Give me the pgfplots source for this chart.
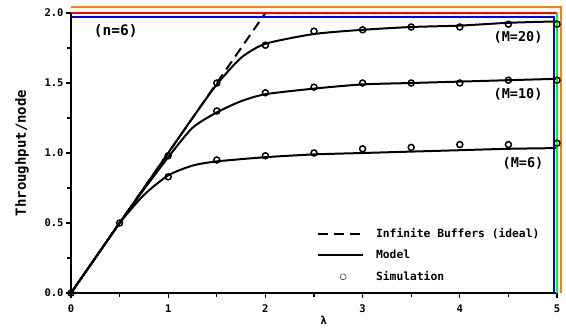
\documentclass[border=0pt]{standalone}
\usepackage{pgfplots}
\pgfplotsset{compat=1.18}
\usepackage{fontspec}
\setmainfont{DejaVu Sans Mono}
\pgfplotsset{
  linelegend/.style={legend image code/.code={\draw[##1] (0pt,0pt) -- (45pt,0pt); \path[draw=none,fill=none] (0pt,0pt) -- (56pt,0pt);}},
  simlegend/.style={legend image code/.code={\draw[##1] (25pt,0pt) circle (3pt); \path[draw=none,fill=none] (0pt,0pt) -- (56pt,0pt);}},
}
\begin{document}
\begin{tikzpicture}
\begin{axis}[name=ax, scale only axis, width=486pt, height=280pt,
  xmin=0, xmax=5, ymin=0, ymax=2, clip=false,
  axis lines*=left,
  xtick={0,1,2,3,4,5}, minor xtick={0.5,1.5,2.5,3.5,4.5},
  ytick={0,0.5,1,1.5,2}, minor ytick={0.25,0.75,1.25,1.75},
  tick align=outside,
  major tick length=5pt, minor tick length=4pt,
  axis line style={black, line width=2pt, -},
  every tick/.style={line width=1.3pt, black},
  /pgf/number format/assume math mode=true,
  yticklabel style={/pgf/number format/fixed, /pgf/number format/fixed zerofill, /pgf/number format/precision=1, xshift=1pt},
  xticklabel style={yshift=-3pt},
  tick label style={font=\fontsize{10.5}{11}\selectfont\bfseries},
  xlabel={λ}, ylabel={Throughput/node},
  xlabel style={at={(axis description cs:0.52,-0.096)}, anchor=center, font=\fontsize{11}{12}\selectfont\bfseries},
  ylabel style={at={(axis description cs:-0.101,0.5)}, anchor=center, font=\fontsize{14}{15}\selectfont\bfseries},
  legend style={draw=none, fill=none, at={(axis cs:2.53,0.475)}, anchor=north west,
    font=\fontsize{11.3}{12}\selectfont\bfseries, row sep=7pt, inner sep=0pt},
  legend cell align=left,
  linelegend,
]
\addplot[black, line width=2pt, dash pattern=on 10pt off 6pt] coordinates {(0,0) (2,2) (5,2)};
\addlegendentry{Infinite Buffers (ideal)}
\addplot[black, line width=2pt, smooth, tension=0.4] coordinates {
(0,0) (0.5,0.5) (1,1.0) (1.25,1.25) (1.5,1.49) (1.75,1.68) (2,1.78) (2.5,1.85) (3,1.88) (3.5,1.90) (4,1.91) (4.5,1.93) (5,1.94)};
\addlegendentry{Model}
\addplot[black, only marks, mark=o, mark size=3pt, mark options={line width=1.5pt}, simlegend] coordinates {
(0,0) (0.5,0.5) (1,0.98) (1.5,1.50) (2,1.77) (2.5,1.87) (3,1.88) (3.5,1.90) (4,1.90) (4.5,1.92) (5,1.92)};
\addlegendentry{Simulation}
\addplot[black, line width=2pt, smooth, tension=0.4, forget plot] coordinates {
(0,0) (0.5,0.5) (0.75,0.74) (1,0.97) (1.25,1.18) (1.5,1.29) (1.75,1.37) (2,1.42) (2.5,1.46) (3,1.49) (3.5,1.50) (4,1.51) (4.5,1.52) (5,1.53)};
\addplot[black, line width=2pt, smooth, tension=0.4, forget plot] coordinates {
(0,0) (0.25,0.25) (0.5,0.5) (0.75,0.70) (1,0.84) (1.25,0.91) (1.5,0.94) (2,0.97) (2.5,0.99) (3,1.00) (3.5,1.01) (4,1.02) (4.5,1.03) (5,1.035)};
\addplot[black, only marks, mark=o, mark size=3pt, mark options={line width=1.5pt}, forget plot] coordinates {
(1.5,1.30) (2,1.43) (2.5,1.47) (3,1.50) (3.5,1.50) (4,1.50) (4.5,1.52) (5,1.52)};
\addplot[black, only marks, mark=o, mark size=3pt, mark options={line width=1.5pt}, forget plot] coordinates {
(1,0.83) (1.5,0.95) (2,0.98) (2.5,1.00) (3,1.03) (3.5,1.04) (4,1.06) (4.5,1.06) (5,1.07)};
\draw[red, line width=2pt] (axis cs:0,2) -- (axis cs:5,2);
\draw[blue, line width=2pt] (axis cs:0,1.97) -- (axis cs:4.97,1.97) -- (axis cs:4.97,0);
\draw[green, line width=2pt] (axis cs:5,2) -- (axis cs:5,0);
\draw[orange, line width=2pt] (axis cs:0,2.04) -- (axis cs:5.04,2.04) -- (axis cs:5.04,0);
\node[font=\fontsize{14.5}{15}\selectfont\bfseries] at (axis cs:0.46,1.87) {(n=6)};
\node[font=\fontsize{13.5}{14}\selectfont\bfseries] at (axis cs:4.6,1.83) {(M=20)};
\node[font=\fontsize{13.5}{14}\selectfont\bfseries] at (axis cs:4.6,1.42) {(M=10)};
\node[font=\fontsize{13.5}{14}\selectfont\bfseries] at (axis cs:4.65,0.93) {(M=6)};
\end{axis}
\path[draw=none] ([xshift=-71pt,yshift=-42pt]ax.south west) rectangle ([xshift=9pt,yshift=13pt]ax.north east);
\end{tikzpicture}
\end{document}
